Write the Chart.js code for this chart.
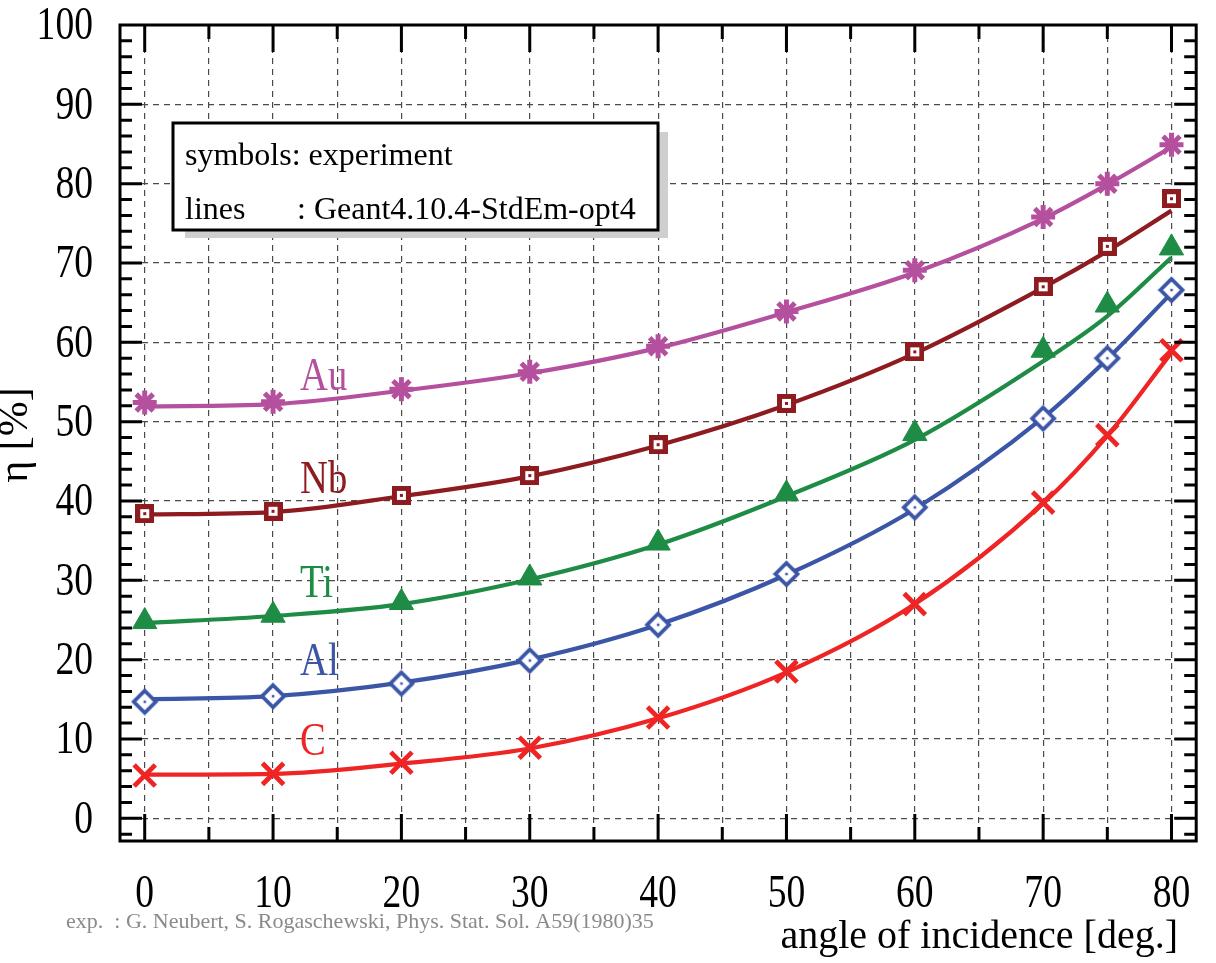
<!DOCTYPE html>
<html>
<head>
<meta charset="utf-8">
<script src="https://cdn.jsdelivr.net/npm/chart.js@4.4.1/dist/chart.umd.min.js"></script>
<style>
  html, body { margin: 0; padding: 0; background: #fff; }
  #wrap { width: 1216px; height: 963px; }
</style>
</head>
<body>
<div id="wrap"><canvas id="eta" width="1216" height="963"></canvas></div>
<script>
// angle of incidence [deg.]
const angles = [0, 10, 20, 30, 40, 50, 60, 70, 75, 80];

// measured backscattering coefficient eta [%] (symbols)
const expAu = [52.4, 52.5, 54.1, 56.3, 59.5, 63.9, 69.1, 75.8, 80.0, 84.9];
const expNb = [38.4, 38.7, 40.7, 43.2, 47.1, 52.3, 58.8, 67.0, 72.1, 78.1];
const expTi = [24.8, 25.6, 27.2, 30.3, 34.7, 40.9, 48.5, 59.0, 64.7, 71.9];
const expAl = [14.7, 15.4, 17.0, 19.9, 24.4, 30.8, 39.2, 50.4, 58.0, 66.6];
const expC  = [5.4, 5.6, 7.0, 8.9, 12.7, 18.5, 27.0, 39.8, 48.3, 59.0];

// Geant4.10.4-StdEm-opt4 (lines)
const simAu = [51.9, 52.2, 53.9, 56.1, 59.3, 63.8, 68.8, 75.6, 79.9, 84.6];
const simNb = [38.3, 38.6, 40.6, 43.1, 47.0, 52.1, 58.6, 66.9, 71.5, 76.6];
const simTi = [24.6, 25.5, 27.0, 30.1, 34.5, 40.6, 47.7, 57.6, 63.3, 70.7];
const simAl = [15.0, 15.4, 17.1, 20.0, 24.4, 30.7, 39.0, 50.5, 57.9, 66.2];
const simC  = [5.5, 5.6, 6.9, 8.8, 12.6, 18.4, 27.0, 39.7, 48.2, 58.7];

// axis ticks
const xGrid = [0, 5, 10, 15, 20, 25, 30, 35, 40, 45, 50, 55, 60, 65, 70, 75, 80];
const xLabels = [0, 10, 20, 30, 40, 50, 60, 70, 80];
const yGrid = [0, 10, 20, 30, 40, 50, 60, 70, 80, 90, 100];
const yMinor = [-2, 0, 2, 4, 6, 8, 10, 12, 14, 16, 18, 20, 22, 24, 26, 28, 30, 32, 34, 36, 38, 40,
  42, 44, 46, 48, 50, 52, 54, 56, 58, 60, 62, 64, 66, 68, 70, 72, 74, 76, 78, 80, 82, 84, 86, 88,
  90, 92, 94, 96, 98];

const colAu = '#b5509e';
const colNb = '#8e1b20';
const colTi = '#1f8c46';
const colAl = '#3b56a7';
const colC = '#ee2524';

const SERIF = '"Liberation Serif", "Times New Roman", serif';

// open square with a dot in the middle
function squareDot(color) {
  const c = document.createElement('canvas');
  c.width = 19; c.height = 19;
  const g = c.getContext('2d');
  g.fillStyle = color; g.fillRect(0, 0, 19, 19);
  g.fillStyle = '#fff'; g.fillRect(5, 5, 9, 9);
  g.fillStyle = color; g.fillRect(8, 8, 3, 3);
  return c;
}

// open diamond with a dot in the middle
function diamondDot(color) {
  const c = document.createElement('canvas');
  c.width = 28; c.height = 28;
  const g = c.getContext('2d');
  g.beginPath();
  g.moveTo(14, 3); g.lineTo(25, 14); g.lineTo(14, 25); g.lineTo(3, 14);
  g.closePath();
  g.fillStyle = '#fff'; g.fill();
  g.lineWidth = 3.8; g.strokeStyle = color; g.stroke();
  g.fillStyle = color; g.fillRect(12.8, 12.8, 2.5, 2.5);
  return c;
}

function pts(values) {
  return angles.map((a, i) => ({ x: a, y: values[i] }));
}

function simLine(values, color) {
  return {
    data: pts(values),
    showLine: true,
    borderColor: color,
    borderWidth: 4.2,
    pointRadius: 0,
    cubicInterpolationMode: 'monotone',
    order: 2
  };
}

function expPoints(values, color, style, radius, width, fill) {
  return {
    data: pts(values),
    showLine: false,
    pointStyle: style,
    pointRadius: radius,
    pointBorderWidth: width,
    pointBorderColor: color,
    pointBackgroundColor: fill,
    order: 1
  };
}

function text(ctx, str, px, py, size, sx, align, base, color) {
  ctx.save();
  ctx.font = size + 'px ' + SERIF;
  ctx.fillStyle = color;
  ctx.textAlign = align;
  ctx.textBaseline = base;
  ctx.translate(px, py);
  ctx.scale(sx, 1);
  ctx.fillText(str, 0, 0);
  ctx.restore();
}

// frame, inward ticks and all the text
const decor = {
  id: 'decor',
  afterDraw(chart) {
    const { ctx, chartArea: a, scales: { x, y } } = chart;
    ctx.save();

    ctx.strokeStyle = '#000';
    ctx.lineWidth = 3;
    ctx.beginPath();
    xGrid.forEach(v => {
      const px = x.getPixelForValue(v);
      const len = v % 10 === 0 ? 27 : 14;
      ctx.moveTo(px, a.bottom); ctx.lineTo(px, a.bottom - len);
      ctx.moveTo(px, a.top); ctx.lineTo(px, a.top + len);
    });
    yMinor.forEach(v => {
      const py = y.getPixelForValue(v);
      const len = v % 10 === 0 ? 22 : 12;
      ctx.moveTo(a.left, py); ctx.lineTo(a.left + len, py);
      ctx.moveTo(a.right, py); ctx.lineTo(a.right - len, py);
    });
    ctx.stroke();
    ctx.strokeRect(a.left, a.top, a.right - a.left, a.bottom - a.top);

    // tick labels
    yGrid.forEach(v => text(ctx, String(v), 93, y.getPixelForValue(v) + 2, 47, 0.8, 'right', 'middle', '#000'));
    xLabels.forEach(v => text(ctx, String(v), x.getPixelForValue(v), 907, 47, 0.8, 'center', 'alphabetic', '#000'));

    // axis titles
    text(ctx, 'angle of incidence [deg.]', 1178, 948, 40, 1, 'right', 'alphabetic', '#000');
    ctx.save();
    ctx.translate(27, 435);
    ctx.rotate(-Math.PI / 2);
    ctx.font = '42px ' + SERIF;
    ctx.fillStyle = '#000';
    ctx.textAlign = 'center';
    ctx.fillText('\u03b7 [%]', 0, 0);
    ctx.restore();

    text(ctx, 'exp.  : G. Neubert, S. Rogaschewski, Phys. Stat. Sol. A59(1980)35',
      66, 928, 22, 1, 'left', 'alphabetic', '#8a8a8a');

    // element names next to the curves
    [['Au', 54.0, colAu], ['Nb', 41.0, colNb], ['Ti', 27.9, colTi], ['Al', 18.1, colAl], ['C', 8.0, colC]]
      .forEach(([name, v, col]) => text(ctx, name, x.getPixelForValue(12.1), y.getPixelForValue(v), 46, 0.84, 'left', 'alphabetic', col));

    // legend box with shadow
    ctx.fillStyle = '#cfcfcf';
    ctx.fillRect(185, 132, 483, 106);
    ctx.fillStyle = '#fff';
    ctx.fillRect(173, 123, 485, 107);
    ctx.lineWidth = 3;
    ctx.strokeStyle = '#000';
    ctx.strokeRect(173, 123, 485, 107);
    text(ctx, 'symbols: experiment', 185, 165, 32, 1, 'left', 'alphabetic', '#000');
    text(ctx, 'lines', 185, 219, 32, 1, 'left', 'alphabetic', '#000');
    text(ctx, ': Geant4.10.4-StdEm-opt4', 297, 219, 32, 1, 'left', 'alphabetic', '#000');

    ctx.restore();
  }
};

const gridOpts = { color: '#4a4a4a', lineWidth: 1.2, drawTicks: false };
const borderOpts = { display: false, dash: [6, 5] };

new Chart(document.getElementById('eta'), {
  type: 'scatter',
  data: {
    datasets: [
      simLine(simAu, colAu),
      simLine(simNb, colNb),
      simLine(simTi, colTi),
      simLine(simAl, colAl),
      simLine(simC, colC),
      expPoints(expAu, colAu, 'star', 12, 5, colAu),
      expPoints(expNb, colNb, squareDot(colNb), 10, 0, colNb),
      expPoints(expTi, colTi, 'triangle', 14, 1, colTi),
      expPoints(expAl, colAl, diamondDot(colAl), 13, 0, '#fff'),
      expPoints(expC, colC, 'crossRot', 15, 4.8, colC)
    ]
  },
  options: {
    responsive: false,
    animation: false,
    events: [],
    layout: { padding: { left: 120, right: 7, top: 25, bottom: 122 } },
    plugins: { legend: { display: false }, tooltip: { enabled: false } },
    scales: {
      x: {
        type: 'linear',
        min: -1.925,
        max: 81.925,
        afterBuildTicks: axis => { axis.ticks = xGrid.map(v => ({ value: v })); },
        ticks: { display: false },
        grid: gridOpts,
        border: borderOpts
      },
      y: {
        type: 'linear',
        min: -2.86,
        max: 100,
        afterBuildTicks: axis => { axis.ticks = yGrid.slice(0, -1).map(v => ({ value: v })); },
        ticks: { display: false },
        grid: gridOpts,
        border: borderOpts
      }
    }
  },
  plugins: [decor]
});
</script>
</body>
</html>
